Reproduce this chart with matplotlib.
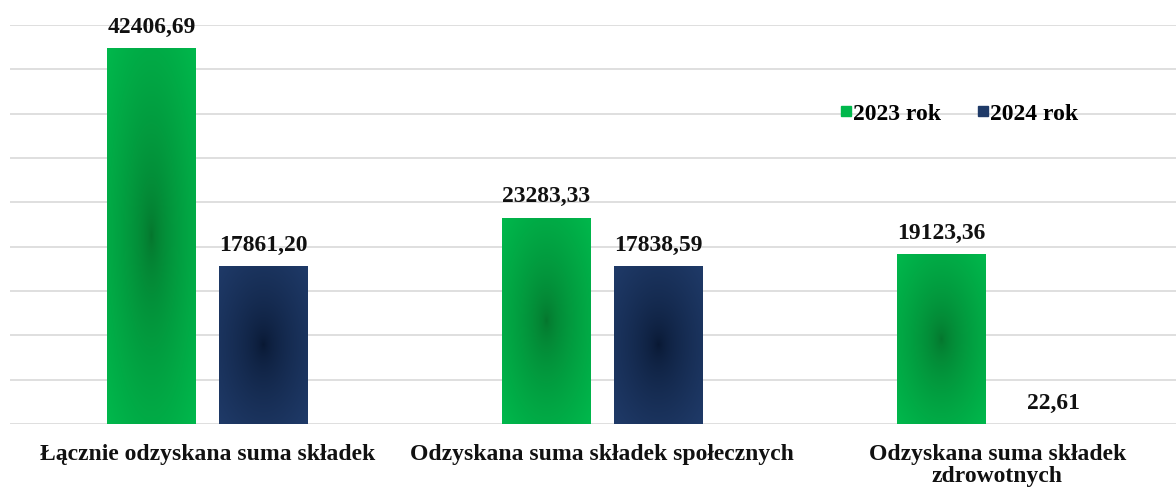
import numpy as np
import matplotlib
matplotlib.use("Agg")
import matplotlib.pyplot as plt
from matplotlib.colors import LinearSegmentedColormap
from matplotlib.lines import Line2D

categories = ["Łącznie odzyskana suma składek",
              "Odzyskana suma składek społecznych",
              "Odzyskana suma składek\nzdrowotnych"]
values_2023 = [42406.69, 23283.33, 19123.36]
values_2024 = [17861.20, 17838.59, 22.61]
labels_2023 = ["42406,69", "23283,33", "19123,36"]
labels_2024 = ["17861,20", "17838,59", "22,61"]
series_names = ["2023 rok", "2024 rok"]

green_edge, green_center = "#00B84C", "#05732C"
navy_edge, navy_center = "#1F3A68", "#081731"

plt.rcParams['font.family'] = ['Liberation Serif', 'DejaVu Serif']

fig = plt.figure(figsize=(11.76, 4.89), dpi=100)
W, H = 1176, 489
ax = fig.add_axes([10 / W, (H - 425) / H, (1176 - 10) / W, (425 - 26) / H])

x = np.arange(len(categories))
bw = 0.223
off = 0.142

ax.set_yticks(np.arange(0, 45001, 5000))
ax.yaxis.grid(True, color="#d9d9d9", linewidth=1.2)
ax.set_axisbelow(True)
ax.tick_params(axis='y', left=False, labelleft=False)
for s in ax.spines.values():
    s.set_visible(False)

def gradient_bars(xs, vals, edge, center):
    cmap = LinearSegmentedColormap.from_list("g", [center, edge])
    bars = ax.bar(xs, vals, width=bw, color=edge, zorder=2)
    n = 200
    yy, xx = np.mgrid[-1:1:n * 1j, -1:1:n * 1j]
    r = np.sqrt(xx ** 2 + yy ** 2) / np.sqrt(2)
    r = np.clip(r, 0, 1) ** 0.6
    for b in bars:
        x0, y0 = b.get_x(), b.get_y()
        w, h = b.get_width(), b.get_height()
        if h <= 0:
            continue
        im = ax.imshow(r, cmap=cmap, vmin=0, vmax=1, aspect='auto',
                       extent=[x0, x0 + w, y0, y0 + h], origin='lower', zorder=3,
                       interpolation='bilinear')
        im.set_clip_path(b)
    return bars

b1 = gradient_bars(x - off, values_2023, green_edge, green_center)
b2 = gradient_bars(x + off, values_2024, navy_edge, navy_center)
ax.set_xlim(-0.5, 2.453)
ax.set_ylim(0, 45000)

for bars, labs in ((b1, labels_2023), (b2, labels_2024)):
    for b, lab in zip(bars, labs):
        ax.annotate(lab, (b.get_x() + b.get_width() / 2, b.get_height()),
                    xytext=(0, 8), textcoords='offset points',
                    ha='center', va='bottom', fontsize=17, fontweight='bold',
                    color='#111111', zorder=5)

ax.set_xticks(x)
ax.set_xticklabels(categories, fontsize=17, fontweight='bold', color='#111111',
                   linespacing=1.05)
ax.tick_params(axis='x', length=0, pad=14)

handles = [Line2D([], [], marker='s', linestyle='none', markersize=7.5,
                  color=green_edge),
           Line2D([], [], marker='s', linestyle='none', markersize=7.5,
                  color=navy_edge)]
fig.legend(handles, series_names, loc='center', bbox_to_anchor=(0.812, 0.766),
           ncol=2, frameon=False, handletextpad=-0.3, handlelength=1.2,
           columnspacing=1.2,
           prop={'family': ['Liberation Serif'], 'weight': 'bold', 'size': 17})

fig.savefig("out.png", dpi=100)
